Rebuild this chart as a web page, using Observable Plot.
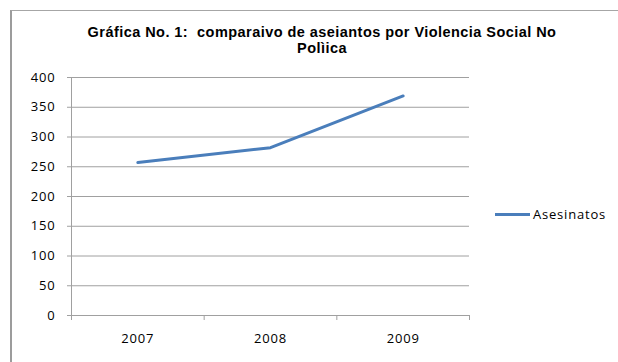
<!DOCTYPE html>
<html>
<head>
<meta charset="utf-8">
<script src="https://cdn.jsdelivr.net/npm/d3@7"></script>
<script src="https://cdn.jsdelivr.net/npm/@observablehq/plot@0.6"></script>
<style>
  html, body { margin: 0; padding: 0; background: #fff; }
  #wrap { position: relative; width: 618px; height: 362px; overflow: hidden; background: #fff; }
  #border { position: absolute; left: 10px; top: 10px; width: 700px; height: 400px;
            border-top: 1px solid #a6a6a6; border-left: 2px solid #9c9c9c; }
  #title { position: absolute; left: 22px; width: 600px; top: 25px; text-align: center;
           font: bold 14.5px "Liberation Sans", Arial, sans-serif; line-height: 15.5px; color: #000;
           letter-spacing: 0.45px; }
  #chart { position: absolute; left: 0; top: 0; }
  #legend { position: absolute; left: 495px; top: 205px; display: flex; align-items: center;
            font: 13px "Open Sans", sans-serif; letter-spacing: 0.8px; color: #000; }
  #legend .sw { display: inline-block; width: 35px; height: 3px; background: #4a7ebb; margin-right: 3px; }
</style>
</head>
<body>
<div id="wrap">
  <div id="chart"></div>
  <div id="border"></div>
  <div id="title"></div>
  <div id="legend"></div>
</div>
<script>
const titleLines = ["Gráfica No. 1:  comparaivo de aseiantos por Violencia Social No", "Polìica"];
const years = ["2007", "2008", "2009"];
const asesinatos = [257, 282, 369];
const yTicks = [0, 50, 100, 150, 200, 250, 300, 350, 400];
const seriesName = "Asesinatos";

const lineColor = "#4a7ebb";
const gridColor = "#a0a0a0";

const data = years.map((y, i) => ({year: y, idx: i + 0.5, value: asesinatos[i]}));
const boundaries = d3.range(years.length + 1);

const chart = Plot.plot({
  width: 618,
  height: 362,
  marginLeft: 71,
  marginRight: 149,
  marginTop: 77,
  marginBottom: 47,
  style: {background: "transparent", color: gridColor, fontFamily: "'Open Sans', sans-serif"},
  x: {domain: [0, years.length], ticks: boundaries, tickSize: 5, tickFormat: () => "", label: null},
  y: {domain: [0, 400], axis: null},
  marks: [
    Plot.ruleY(yTicks, {stroke: gridColor, strokeWidth: 1, insetLeft: -4}),
    Plot.ruleX([0], {stroke: gridColor, strokeWidth: 1, insetBottom: -5}),
    Plot.text(yTicks, {y: d => d, frameAnchor: "left", dx: -16, textAnchor: "end",
      text: d => String(d), fill: "#000", fontSize: 13}),
    Plot.text(data, {x: "idx", frameAnchor: "bottom", dy: 27, text: "year", fill: "#000", fontSize: 13}),
    Plot.line(data, {x: "idx", y: "value", stroke: lineColor, strokeWidth: 3, strokeLinecap: "round"})
  ]
});
document.getElementById("chart").appendChild(chart);
chart.querySelectorAll("text").forEach(t => t.style.letterSpacing = "0.8px");

const title = document.getElementById("title");
titleLines.forEach(l => { const d = document.createElement("div"); d.textContent = l; d.style.whiteSpace = "pre"; title.appendChild(d); });

const legend = document.getElementById("legend");
legend.innerHTML = '<span class="sw"></span><span></span>';
legend.lastChild.textContent = seriesName;
</script>
</body>
</html>
